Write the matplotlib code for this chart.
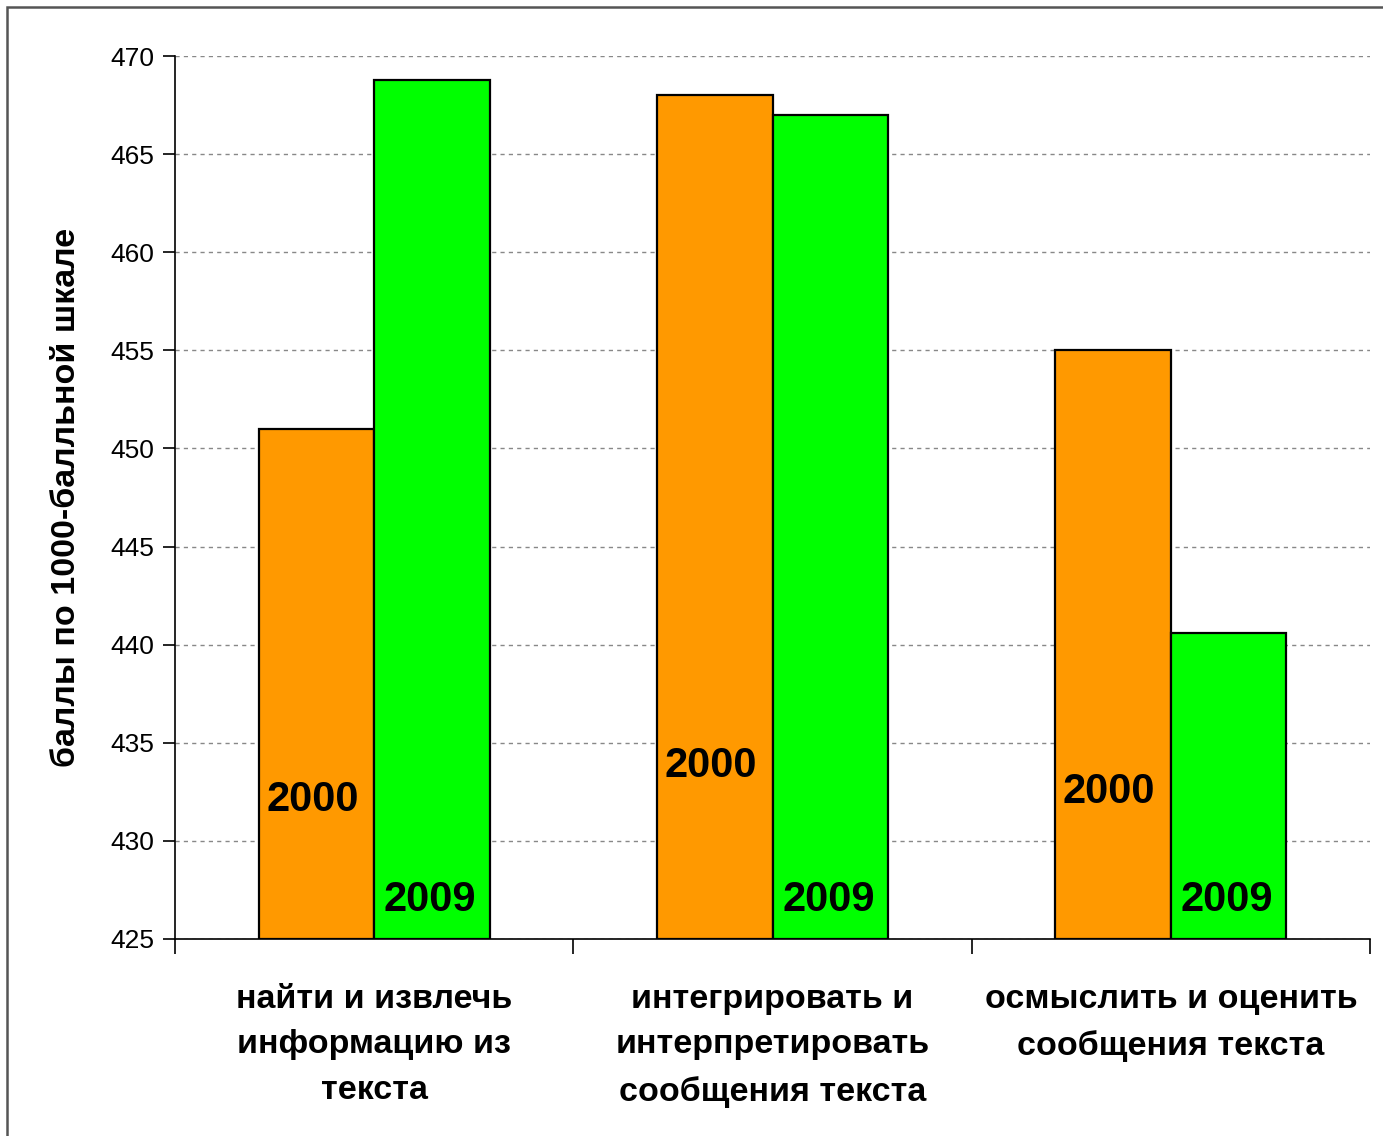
import matplotlib
matplotlib.use("Agg")
import matplotlib.pyplot as plt
import matplotlib.patches as mpatches
import matplotlib.transforms as mtransforms
import numpy as np

categories = ["найти и извлечь\nинформацию из\nтекста",
              "интегрировать и\nинтерпретировать\nсообщения текста",
              "осмыслить и оценить\nсообщения текста"]
years = ["2000", "2009"]
values_2000 = [451.0, 468.0, 455.0]
values_2009 = [468.8, 467.0, 440.6]
yticks = [425, 430, 435, 440, 445, 450, 455, 460, 465, 470]

# layout for in-bar year labels (data y)
label_y_2000 = [432.1, 433.8, 432.5]
label_y_2009 = [427.0, 427.0, 427.0]

plt.rcParams['font.family'] = ['Liberation Sans', 'DejaVu Sans']

fig = plt.figure(figsize=(13.83, 11.36), dpi=100)
ax = fig.add_axes([175/1383, 1-939/1136, (1370-175)/1383, (939-56)/1136])

x = np.arange(len(categories))
w = 0.29
ax.bar(x - w/2, [v - 425 for v in values_2000], w, bottom=425, color="#FF9900",
       edgecolor="black", linewidth=1.6, zorder=3)
ax.bar(x + w/2, [v - 425 for v in values_2009], w, bottom=425, color="#00FF00",
       edgecolor="black", linewidth=1.6, zorder=3)

for i in range(len(categories)):
    ax.text(x[i] - w/2 - 0.01, label_y_2000[i], years[0], ha='center', va='center',
            fontsize=30, fontweight='bold', zorder=4)
    ax.text(x[i] + w/2 - 0.005, label_y_2009[i], years[1], ha='center', va='center',
            fontsize=30, fontweight='bold', zorder=4)

ax.set_xlim(-0.5, 2.5)
ax.set_ylim(425, 470)
ax.set_yticks(yticks)
ax.set_yticklabels([str(t) for t in yticks], fontsize=19)
ax.tick_params(axis='y', direction='out', length=9, width=1.2, pad=6)
ax.set_xticks([-0.5, 0.5, 1.5, 2.5])
ax.set_xticklabels([])
ax.tick_params(axis='x', direction='out', length=11, width=1.2)

ax.yaxis.grid(True, linestyle=(0, (3, 3)), color='#888888', linewidth=1.0, zorder=0)
ax.set_axisbelow(True)
for s in ['top', 'right']:
    ax.spines[s].set_visible(False)
for s in ['left', 'bottom']:
    ax.spines[s].set_linewidth(1.2)

trans = mtransforms.blended_transform_factory(ax.transData, ax.transAxes)
for i, cat in enumerate(categories):
    ax.text(x[i], -0.0505, cat, transform=trans, ha='center', va='top',
            fontsize=24.5, fontweight='bold', linespacing=1.62)

ax.set_ylabel("баллы по 1000-балльной шкале", fontsize=24.5, fontweight='bold', labelpad=20)

border = mpatches.Rectangle((7/1383, -0.5), 2.0, 1.5 - 7/1136, transform=fig.transFigure,
                            fill=False, edgecolor='#555555', linewidth=1.8, clip_on=False)
fig.patches.append(border)

fig.savefig("out.png", dpi=100, facecolor='white')
